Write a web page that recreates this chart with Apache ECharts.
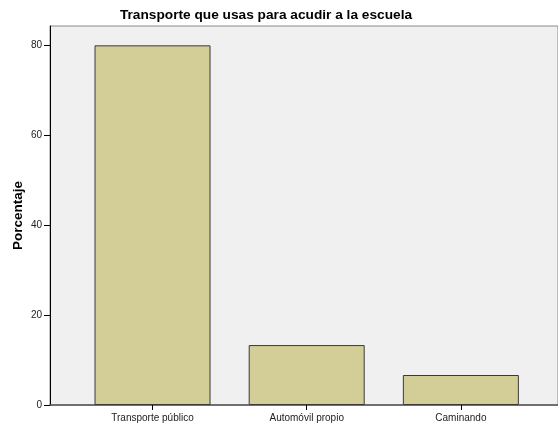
<!DOCTYPE html>
<html>
<head>
<meta charset="utf-8">
<script src="https://cdn.jsdelivr.net/npm/echarts@6/dist/echarts.min.js"></script>
<style>
  html, body { margin: 0; padding: 0; background: #fff; }
  #main { width: 558px; height: 428px; }
</style>
</head>
<body>
<div id="main"></div>
<script>
// data
const categories = ["Transporte público", "Automóvil propio", "Caminando"];
const percents = [80, 13.33, 6.67];
const yTicks = [0, 20, 40, 60, 80];

const positions = categories.map((c, i) => i);
const barData = percents.map((v, i) => [positions[i], v]);

const chart = echarts.init(document.getElementById("main"));
const font = "Arial, 'Liberation Sans', sans-serif";

chart.setOption({
  animation: false,
  title: {
    text: "Transporte que usas para acudir a la escuela",
    left: 261,
    top: 3,
    textAlign: "center",
    textStyle: { fontFamily: font, fontSize: 13.7, fontWeight: "bold", color: "#000" },
  },
  grid: {
    left: 50,
    right: -1,
    top: 26,
    bottom: 23,
    show: true,
    backgroundColor: "#f0f0f0",
    borderColor: "#8a8a8a",
    borderWidth: 1,
  },
  xAxis: {
    type: "value",
    min: -0.665,
    max: 2.63,
    splitLine: { show: false },
    axisLine: { show: true, lineStyle: { color: "#555", width: 1.5 } },
    axisTick: {
      show: true,
      length: 5,
      customValues: positions,
      lineStyle: { color: "#000" },
    },
    axisLabel: {
      customValues: positions,
      formatter: (v) => categories[Math.round(v)],
      margin: 8,
      fontFamily: font,
      fontSize: 10,
      color: "#222",
    },
  },
  yAxis: {
    type: "value",
    min: yTicks[0],
    max: 84.3,
    interval: yTicks[1] - yTicks[0],
    name: "Porcentaje",
    nameLocation: "middle",
    nameGap: 25,
    nameMoveOverlap: false,
    nameTextStyle: { fontFamily: font, fontSize: 13.5, fontWeight: "bold", color: "#000" },
    splitLine: { show: false },
    axisLine: { show: true, onZero: false, lineStyle: { color: "#000", width: 1 } },
    axisTick: { show: true, length: 6, lineStyle: { color: "#000" } },
    axisLabel: {
      showMaxLabel: false,
      margin: 8,
      fontFamily: font,
      fontSize: 10,
      color: "#222",
      formatter: (v) => (yTicks.indexOf(v) >= 0 ? String(v) : ""),
    },
  },
  series: [
    {
      type: "bar",
      data: barData,
      barWidth: 116,
      itemStyle: {
        color: "#d3ce97",
        borderColor: "#3a3a3a",
        borderWidth: 1,
      },
    },
  ],
});
</script>
</body>
</html>
